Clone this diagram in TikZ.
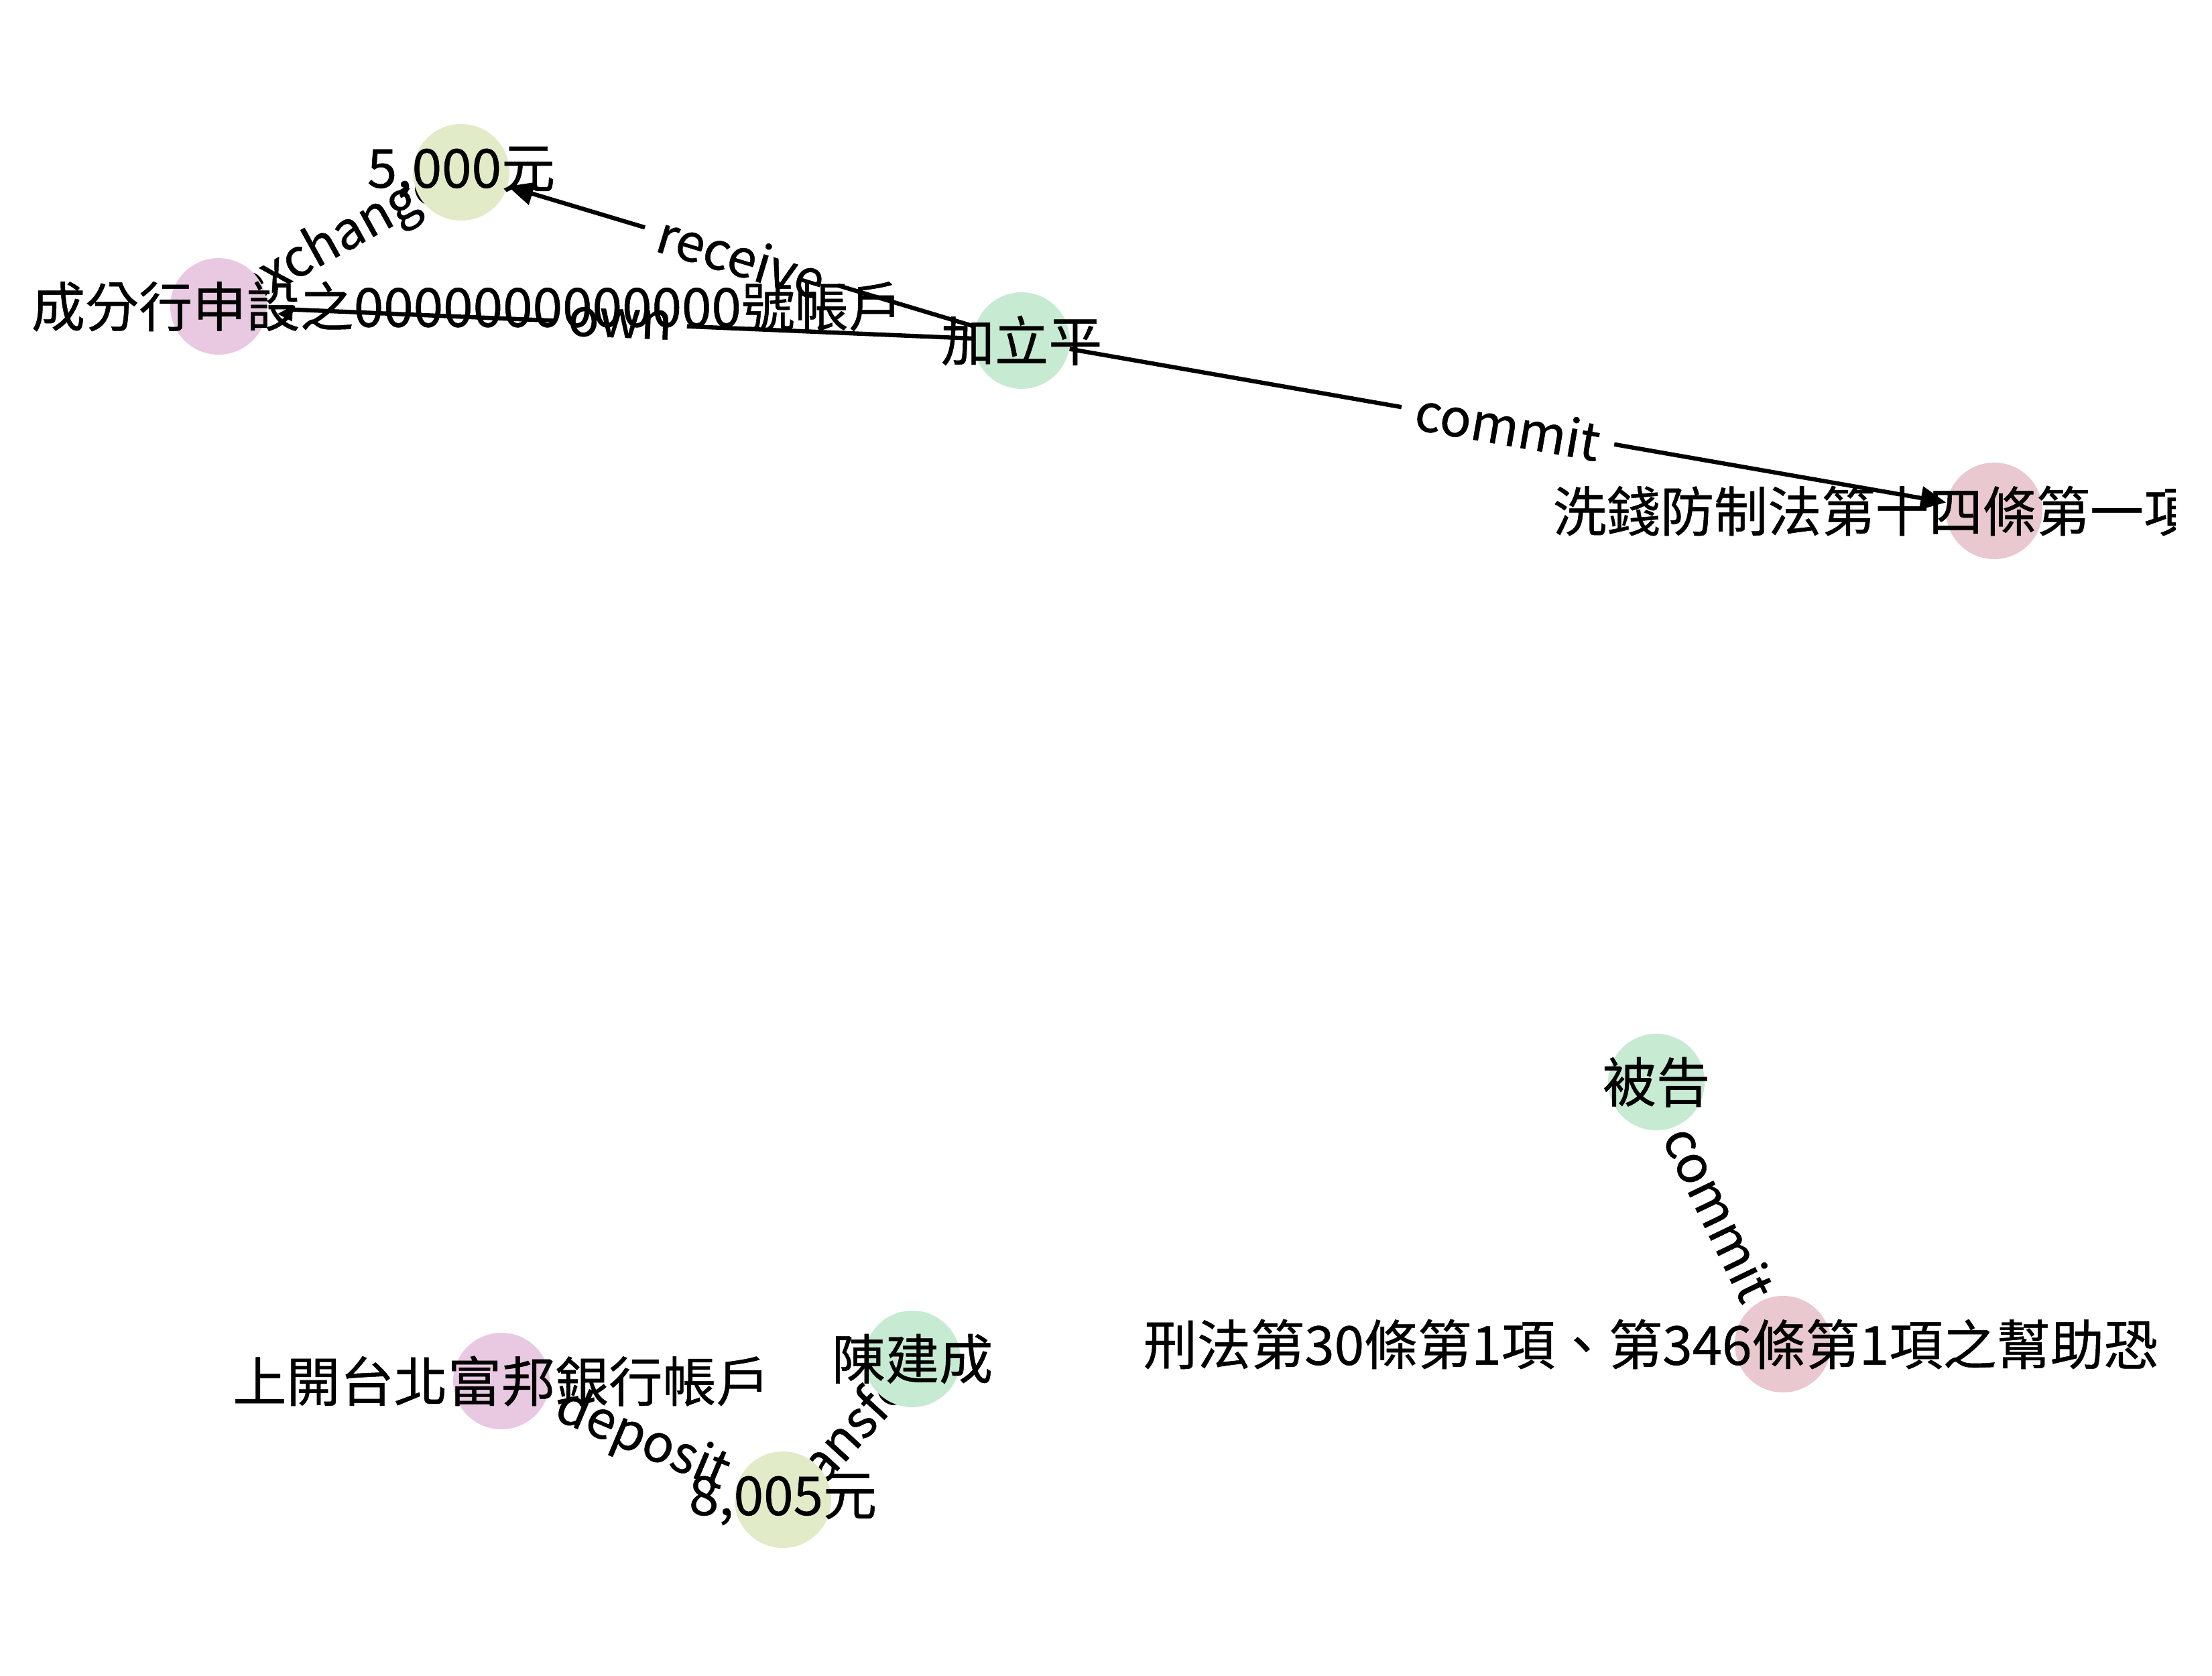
\documentclass[tikz,border=0pt]{standalone}
\usepackage{fontspec}
\setmainfont{Noto Sans CJK TC}[FakeBold=0.6]
\usetikzlibrary{arrows.meta,backgrounds}
\definecolor{mint}{RGB}{199,234,210}
\definecolor{sage}{RGB}{225,235,200}
\definecolor{lilac}{RGB}{233,201,225}
\definecolor{rosy}{RGB}{233,200,207}

\begin{document}
\begin{tikzpicture}[dot/.style={circle,minimum size=1.44cm,inner sep=0pt,fill=#1},
  nlbl/.style={inner sep=0pt,font=\fontsize{22.8pt}{26pt}\selectfont},
  elbl/.style={midway,sloped,fill=white,rounded corners=0.2cm,inner xsep=0.22cm,inner ysep=0.12cm,font=\fontsize{22pt}{25pt}\selectfont},
  arr/.style={line width=1.8pt,-{Triangle[length=0.38cm,width=0.34cm]}}]
\useasboundingbox (0,0) rectangle (33,-24.99);
\clip (0,0) rectangle (32.46,-24.99);
% entities
\node[dot=sage] (cash1) at (6.88,-2.57) {};
\node[dot=lilac] (acct1) at (3.26,-4.57) {};
\node[dot=mint] (jia) at (15.24,-5.08) {};
\node[dot=rosy] (law1) at (29.75,-7.62) {};
\node[dot=mint] (def) at (24.71,-16.14) {};
\node[dot=rosy] (law2) at (26.60,-20.05) {};
\node[dot=mint] (chen) at (13.61,-20.27) {};
\node[dot=lilac] (acct2) at (7.48,-20.60) {};
\node[dot=sage] (cash2) at (11.68,-22.37) {};
% relations
\begin{scope}[on background layer]
\draw[arr] (jia) -- (cash1) node[elbl] {receive};
\draw[arr] (jia) -- (acct1) node[elbl] {own};
\draw[arr] (jia) -- (law1) node[elbl] {commit};
\draw[arr] (acct1) -- (cash1) node[elbl] {exchange};
\draw[arr] (def) -- (law2) node[elbl] {commit};
\draw[arr] (chen) -- (cash2) node[elbl,pos=0.53] {transfer};
\draw[arr] (cash2) -- (acct2) node[elbl] {deposit};
\end{scope}
% names
\node[nlbl] (cash1-t) at (cash1) {5,000元};
\node[nlbl,anchor=east] (acct1-t) at (13.47,-4.57) {成分行申設之0000000000000號帳戶};
\node[nlbl] (jia-t) at (jia) {加立平};
\node[nlbl,anchor=west] (law1-t) at (23.16,-7.62) {洗錢防制法第十四條第一項};
\node[nlbl] (def-t) at (def) {被告};
\node[nlbl,anchor=west] (law2-t) at (17.05,-20.05) {刑法第30條第1項、第346條第1項之幫助恐};
\node[nlbl] (chen-t) at (chen) {陳建成};
\node[nlbl] (acct2-t) at (acct2) {上開台北富邦銀行帳戶};
\node[nlbl] (cash2-t) at (cash2) {8,005元};
\end{tikzpicture}
\end{document}
